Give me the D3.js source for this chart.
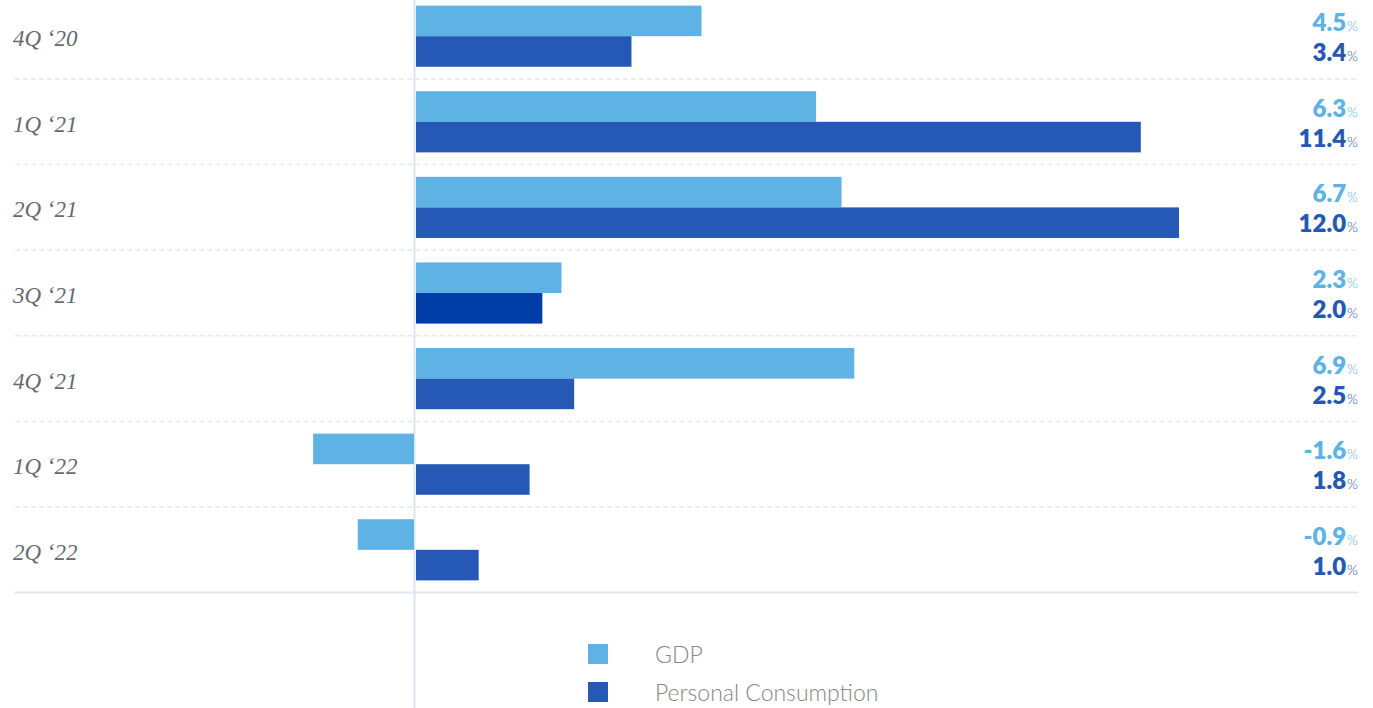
<!DOCTYPE html>
<html>
<head>
<meta charset="utf-8">
<script src="https://cdn.jsdelivr.net/npm/d3@7"></script>
<style>
  html, body { margin: 0; padding: 0; background: #ffffff; }
  svg { display: block; }
</style>
</head>
<body>
<svg id="chart" width="1373" height="708"></svg>
<script>
// Quarterly growth, annualised (%)
const quarters = ["4Q \u201820", "1Q \u201821", "2Q \u201821", "3Q \u201821", "4Q \u201821", "1Q \u201822", "2Q \u201822"];
const gdp = [4.5, 6.3, 6.7, 2.3, 6.9, -1.6, -0.9];
const consumption = [3.4, 11.4, 12.0, 2.0, 2.5, 1.8, 1.0];
const seriesNames = ["GDP", "Personal Consumption"];
const highlightQuarter = "3Q \u201821";

const colors = { gdp: "#5eb2e4", pc: "#2659b5", pcHighlight: "#003ca6" };

const W = 1373, H = 708;
const svg = d3.select("#chart");

const rowTop = -6.6, rowBottom = 592.6;
const y = d3.scaleBand().domain(quarters).range([rowTop, rowBottom]).padding(0);
const ySub = d3.scaleBand().domain(["gdp", "pc"]).range([0, y.bandwidth()])
  .paddingInner(0).paddingOuter(0.4);
const x = d3.scaleLinear().domain([0, 12]).range([415, 1179]);

const gridLeft = 15, gridRight = 1358;

const rows = quarters.map((q, i) => ({ q, gdp: gdp[i], pc: consumption[i] }));

// row separators
svg.append("g").selectAll("line")
  .data(quarters.slice(0, -1))
  .join("line")
  .attr("x1", gridLeft).attr("x2", gridRight)
  .attr("y1", d => y(d) + y.bandwidth()).attr("y2", d => y(d) + y.bandwidth())
  .attr("stroke", "#e2e9f3").attr("stroke-width", 1.5)
  .attr("stroke-dasharray", "5,3");

svg.append("line")
  .attr("x1", gridLeft).attr("x2", gridRight)
  .attr("y1", rowBottom).attr("y2", rowBottom)
  .attr("stroke", "#dfe6f1").attr("stroke-width", 2);

// zero line
svg.append("line")
  .attr("x1", x(0) - 0.5).attr("x2", x(0) - 0.5)
  .attr("y1", 0).attr("y2", H)
  .attr("stroke", "#dce5f2").attr("stroke-width", 2);

// bars
const bars = svg.append("g");
bars.selectAll("rect.gdp").data(rows).join("rect")
  .attr("class", "gdp")
  .attr("x", d => d.gdp >= 0 ? x(0) + 1 : x(d.gdp))
  .attr("width", d => Math.abs(x(d.gdp) - x(0)) - (d.gdp >= 0 ? 1 : 1))
  .attr("y", d => y(d.q) + ySub("gdp"))
  .attr("height", ySub.bandwidth())
  .attr("fill", colors.gdp);

bars.selectAll("rect.pc").data(rows).join("rect")
  .attr("class", "pc")
  .attr("x", d => d.pc >= 0 ? x(0) + 1 : x(d.pc))
  .attr("width", d => Math.abs(x(d.pc) - x(0)) - 1)
  .attr("y", d => y(d.q) + ySub("pc"))
  .attr("height", ySub.bandwidth())
  .attr("fill", d => d.q === highlightQuarter ? colors.pcHighlight : colors.pc);

// category labels
svg.append("g").selectAll("text").data(rows).join("text")
  .attr("x", 13)
  .attr("y", d => y(d.q) + y.bandwidth() / 2 + 10)
  .attr("font-family", "'Liberation Serif', 'DejaVu Serif', serif")
  .attr("font-style", "italic")
  .attr("font-size", 23)
  .attr("fill", "#676a6e")
  .text(d => d.q);

// value labels
function valueLabel(sel, key, color, dy) {
  const t = sel.append("text")
    .attr("x", gridRight)
    .attr("y", d => y(d.q) + y.bandwidth() / 2 + dy)
    .attr("text-anchor", "end")
    .attr("fill", color)
    .attr("font-family", "Lato, 'Open Sans', sans-serif");
  t.append("tspan")
    .attr("font-size", 24).attr("font-weight", 800)
    .text(d => d[key].toFixed(1));
  t.append("tspan")
    .attr("font-size", 14).attr("font-weight", 300)
    .attr("dx", 1)
    .text("%");
}
const labels = svg.append("g").selectAll("g").data(rows).join("g");
labels.call(valueLabel, "gdp", "#5db3e5", -5);
labels.call(valueLabel, "pc", "#2358b5", 25);

// legend
const legend = svg.append("g");
const legendItems = [
  { name: seriesNames[0], color: colors.gdp, yPos: 654 },
  { name: seriesNames[1], color: colors.pc, yPos: 692 }
];
legend.selectAll("rect").data(legendItems).join("rect")
  .attr("x", 588).attr("y", d => d.yPos - 10)
  .attr("width", 20).attr("height", 20)
  .attr("fill", d => d.color);
legend.selectAll("text").data(legendItems).join("text")
  .attr("x", 655).attr("y", d => d.yPos + 9)
  .attr("font-family", "Lato, 'Open Sans', sans-serif")
  .attr("font-weight", 300)
  .attr("font-size", 23)
  .attr("fill", "#858585")
  .text(d => d.name);
</script>
</body>
</html>
